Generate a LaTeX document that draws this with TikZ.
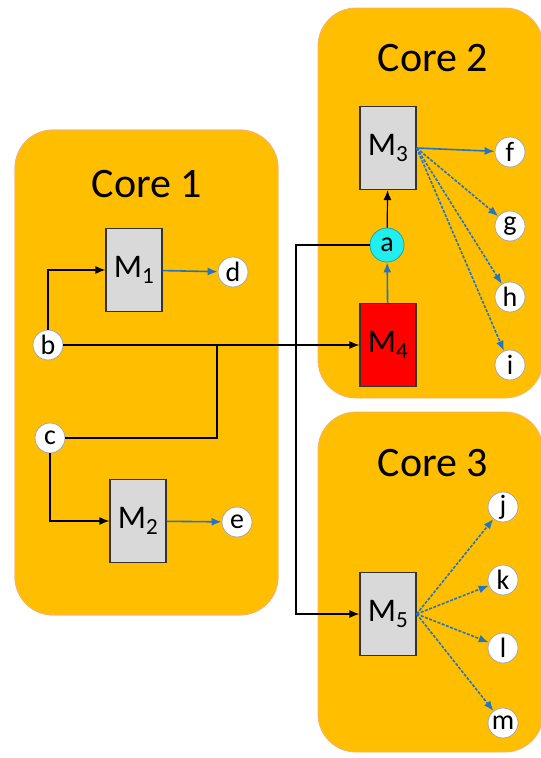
\documentclass[tikz,border=0pt]{standalone}
\usepackage{fontspec}
\setmainfont{Carlito}
\usetikzlibrary{arrows.meta}
\definecolor{coreor}{HTML}{FFBF00}
\definecolor{coreedge}{HTML}{F5B26B}
\definecolor{boxgray}{HTML}{D9D9D9}
\definecolor{arrblue}{HTML}{2475C0}
\definecolor{cyanfill}{HTML}{22EEF0}
\tikzset{
  core/.style={fill=coreor, draw=coreedge, line width=0.8pt, rounded corners=38pt},
  corelabel/.style={font=\fontsize{42}{46}\selectfont},
  mbox/.style={draw=black!80, line width=1.2pt, fill=boxgray, minimum width=56pt, minimum height=83pt, inner sep=0pt, font=\fontsize{33}{36}\selectfont},
  sig/.style={circle, draw=black!35, fill=white, line width=0.8pt, minimum size=30pt, inner sep=0pt, font=\fontsize{28}{30}\selectfont},
  blk/.style={draw=black, line width=1.2pt, -{Latex[length=10pt,width=8pt]}},
  blu/.style={draw=arrblue, line width=1.6pt, -{Latex[length=10pt,width=8pt]}},
  bluds/.style={blu, dashed, dash pattern=on 3pt off 1.5pt},
  plain/.style={draw=black, line width=1.2pt},
}
\newcommand{\msub}[1]{M\textsubscript{#1}}
\begin{document}
\begin{tikzpicture}[x=1pt,y=-1pt]
\useasboundingbox (0,0) rectangle (541,758);
% cores
\fill[core] (15,130) rectangle (278,615);
\fill[core] (318,8) rectangle (543,398);
\fill[core] (318,412) rectangle (543,752);
\draw[coreedge, line width=0.8pt, rounded corners=38pt] (15,130) rectangle (278,615);
\node[corelabel] (c1) at (147,184) {Core 1};
\node[corelabel] (c2) at (433,58) {Core 2};
\node[corelabel] (c3) at (433,463) {Core 3};
% core 1
\node[mbox] (M1) at (134,270) {\msub{1}};
\node[mbox] (M2) at (138,521) {\msub{2}};
\node[sig] (d) at (233,272) {d};
\node[sig] (e) at (237,522) {e};
\node[sig] (b) at (48,345) {b};
\node[sig] (c) at (50,438) {c};
% core 2
\node[mbox] (M3) at (388,148) {\msub{3}};
\node[mbox, fill=red] (M4) at (388,345) {\msub{4}};
\node[sig, minimum size=34pt, fill=cyanfill, draw=cyanfill!70!black] (a) at (387,245) {a};
\node[sig] (f) at (510,152) {f};
\node[sig] (g) at (510,226) {g};
\node[sig] (h) at (510,297) {h};
\node[sig] (i) at (510,365) {i};
% core 3
\node[mbox] (M5) at (388,614) {\msub{5}};
\node[sig] (j) at (503,507) {j};
\node[sig] (k) at (503,580) {k};
\node[sig] (l) at (503,648) {l};
\node[sig] (m) at (503,723) {m};
\coordinate (cj) at (217,345);
\coordinate (av) at (296,245);
% connectors
\draw[blk] (b) |- (M1);
\draw[blk] (c) |- (M2);
\draw[blk] (b) -- (M4);
\draw[plain] (c) -| (cj);
\draw[blk] (a) -| (av) |- (M5);
\draw[blu] (M4) -- (a);
\draw[blk] (a) -- (M3);
\draw[blu] (M1) -- (d);
\draw[blu] (M2) -- (e);
\draw[blu] (M3.east) -- (f);
\draw[bluds] (M3.east) -- (g);
\draw[bluds] (M3.east) -- (h);
\draw[bluds] (M3.east) -- (i);
\draw[bluds] (M5.east) -- (j);
\draw[bluds] (M5.east) -- (k);
\draw[bluds] (M5.east) -- (l);
\draw[bluds] (M5.east) -- (m);
\end{tikzpicture}
\end{document}
